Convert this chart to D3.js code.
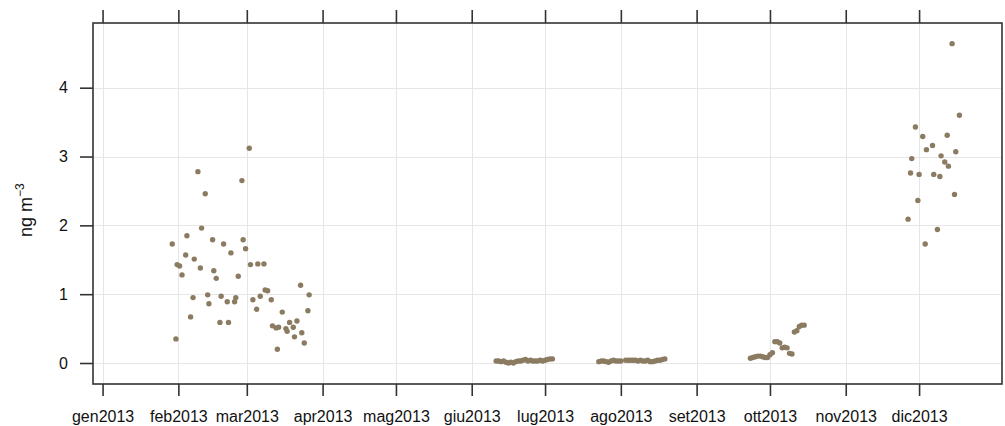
<!DOCTYPE html>
<html>
<head>
<meta charset="utf-8">
<script src="https://cdn.jsdelivr.net/npm/d3@7"></script>
<style>
  body { margin: 0; background: #fff; }
  svg { display: block; font-family: "Liberation Sans", Arial, sans-serif; }
</style>
</head>
<body>
<svg id="chart"></svg>
<script>
// month tick labels (italian)
const monthLabels = ["gen2013", "feb2013", "mar2013", "apr2013", "mag2013", "giu2013",
    "lug2013", "ago2013", "set2013", "ott2013", "nov2013", "dic2013"];
const yTicks = [0, 1, 2, 3, 4];

// winter samples
const febMarDates = ["2013-01-29 12","2013-01-31 00","2013-01-31 12","2013-02-01 12","2013-02-02 12",
    "2013-02-04 00","2013-02-04 12","2013-02-06 00","2013-02-07 00","2013-02-07 12",
    "2013-02-09 00","2013-02-10 00","2013-02-10 12","2013-02-12 00","2013-02-13 00",
    "2013-02-13 12","2013-02-15 00","2013-02-15 12","2013-02-16 12","2013-02-18 00",
    "2013-02-18 12","2013-02-19 12","2013-02-21 00","2013-02-21 12","2013-02-22 12",
    "2013-02-24 00","2013-02-24 12","2013-02-25 12","2013-02-27 00","2013-02-27 12",
    "2013-02-28 12","2013-03-02 00","2013-03-02 12","2013-03-03 12","2013-03-05 00",
    "2013-03-05 12","2013-03-06 12","2013-03-08 00","2013-03-08 12","2013-03-09 12",
    "2013-03-11 00","2013-03-11 12","2013-03-13 00","2013-03-13 12","2013-03-14 00",
    "2013-03-15 12","2013-03-17 00","2013-03-17 12","2013-03-18 12","2013-03-20 00",
    "2013-03-20 12","2013-03-21 12","2013-03-23 00","2013-03-23 12","2013-03-24 12",
    "2013-03-26 00","2013-03-26 12"];
const febMarValues = [1.73,0.35,1.43,1.41,1.28, 1.57,1.85,0.67,0.95,1.51,
    2.78,1.38,1.96,2.46,0.99, 0.86,1.79,1.34,1.23,0.59,
    0.97,1.73,0.89,0.59,1.60, 0.89,0.95,1.26,2.65,1.79,
    1.66,3.12,1.43,0.92,0.78, 1.44,0.97,1.44,1.06,1.05,
    0.92,0.54,0.51,0.20,0.52, 0.74,0.50,0.46,0.59,0.52,
    0.38,0.61,1.13,0.44,0.29, 0.76,0.99];

// summer samples
const junJulDates = ["2013-06-11","2013-06-12","2013-06-13","2013-06-14","2013-06-15","2013-06-16",
    "2013-06-17","2013-06-18","2013-06-19","2013-06-20","2013-06-21","2013-06-22",
    "2013-06-23","2013-06-24","2013-06-25","2013-06-26","2013-06-27","2013-06-28",
    "2013-06-29","2013-06-30","2013-07-01","2013-07-02","2013-07-03","2013-07-04"];
const junJulValues = [0.03,0.03,0.02,0.03,0.01,0.00, 0.01,0.00,0.02,0.03,0.03,0.04,
    0.05,0.03,0.04,0.03,0.03,0.03, 0.04,0.03,0.04,0.05,0.06,0.06];

const julAugDates = ["2013-07-23","2013-07-24","2013-07-25","2013-07-26","2013-07-27","2013-07-28",
    "2013-07-29","2013-07-30","2013-07-31","2013-08-01","2013-08-03","2013-08-04",
    "2013-08-05","2013-08-06","2013-08-07","2013-08-08","2013-08-09","2013-08-10",
    "2013-08-11","2013-08-12","2013-08-13","2013-08-14","2013-08-15","2013-08-16",
    "2013-08-17","2013-08-18","2013-08-19"];
const julAugValues = [0.02,0.03,0.03,0.02,0.01,0.03, 0.04,0.03,0.03,0.03,0.04,0.04,
    0.04,0.04,0.04,0.03,0.04,0.03, 0.03,0.04,0.02,0.02,0.03,0.04, 0.04,0.05,0.06];

// autumn samples
const octDates = ["2013-09-23","2013-09-24","2013-09-25","2013-09-26","2013-09-27","2013-09-28",
    "2013-09-29","2013-09-30","2013-10-01","2013-10-02","2013-10-03","2013-10-04",
    "2013-10-05","2013-10-06","2013-10-07","2013-10-08","2013-10-09","2013-10-10",
    "2013-10-11","2013-10-12","2013-10-13","2013-10-14","2013-10-15"];
const octValues = [0.07,0.08,0.09,0.10,0.10,0.09, 0.08,0.08,0.12,0.15,0.31,0.31,
    0.29,0.22,0.23,0.22,0.14,0.13, 0.45,0.47,0.53,0.55,0.55];

// december samples
const decDates = ["2013-12-14 12","2013-12-17 12","2013-11-29 12","2013-12-02 12","2013-12-12 12",
    "2013-12-06 12","2013-12-04 00","2013-12-16 00","2013-11-28 00","2013-12-10 00",
    "2013-12-11 12","2013-12-13 00","2013-11-27 12","2013-12-01 00","2013-12-07 00",
    "2013-12-09 12","2013-11-30 12","2013-12-15 12","2013-11-26 12","2013-12-08 12",
    "2013-12-03 12"];
const decValues = [4.64,3.60,3.43,3.29,3.31, 3.16,3.10,3.07,2.97,3.01,
    2.92,2.86,2.76,2.74,2.74, 2.71,2.36,2.45,2.09,1.94, 1.73];

const parseH = d3.timeParse("%Y-%m-%d %H"),
    parseD = d3.timeParse("%Y-%m-%d");
const parse = function(s) { return parseH(s) || parseD(s); };

const points = [];
[[febMarDates, febMarValues], [junJulDates, junJulValues], [julAugDates, julAugValues],
 [octDates, octValues], [decDates, decValues]].forEach(function(pair) {
    pair[0].forEach(function(s, i) {
        points.push({date: parse(s), value: pair[1][i]});
    });
});

const width = 1005, height = 426;
const plotLeft = 93, plotRight = 1002, plotTop = 23, plotBottom = 384;

const svg = d3.select("#chart")
    .attr("width", width)
    .attr("height", height);

const x = d3.scaleTime()
    .domain([new Date(2012, 11, 28, 2), new Date(2014, 0, 3, 22)])
    .range([plotLeft, plotRight]);
const y = d3.scaleLinear()
    .domain([-0.305, 4.94])
    .range([plotBottom, plotTop]);

const monthTicks = d3.timeMonth.range(new Date(2013, 0, 1), new Date(2014, 0, 1));

// grid
const grid = svg.append("g")
    .attr("stroke", "#e6e6e6")
    .attr("stroke-width", 1);
grid.selectAll("line.v")
    .data(monthTicks)
    .enter().append("line")
    .attr("class", "v")
    .attr("x1", function(d) { return Math.round(x(d)) + 0.5; })
    .attr("x2", function(d) { return Math.round(x(d)) + 0.5; })
    .attr("y1", plotTop)
    .attr("y2", plotBottom);
grid.selectAll("line.h")
    .data(yTicks)
    .enter().append("line")
    .attr("class", "h")
    .attr("x1", plotLeft)
    .attr("x2", plotRight)
    .attr("y1", function(d) { return Math.round(y(d)) + 0.5; })
    .attr("y2", function(d) { return Math.round(y(d)) + 0.5; });

// points
svg.append("g")
    .selectAll("circle")
    .data(points)
    .enter().append("circle")
    .attr("cx", function(d) { return x(d.date); })
    .attr("cy", function(d) { return y(d.value); })
    .attr("r", 2.7)
    .attr("fill", "#8a7b61");

// axes
const fmt = function(d) { return monthLabels[d.getMonth()]; };
const xBottom = svg.append("g")
    .attr("transform", "translate(0," + plotBottom + ")")
    .call(d3.axisBottom(x).tickValues(monthTicks).tickFormat(fmt).tickSize(12).tickPadding(15));
const xTop = svg.append("g")
    .attr("transform", "translate(0," + plotTop + ")")
    .call(d3.axisTop(x).tickValues(monthTicks).tickFormat("").tickSize(13));
const yLeft = svg.append("g")
    .attr("transform", "translate(" + plotLeft + ",0)")
    .call(d3.axisLeft(y).tickValues(yTicks).tickFormat(d3.format("d")).tickSize(13).tickPadding(12));

[xBottom, xTop, yLeft].forEach(function(g) {
    g.select(".domain").remove();
    g.selectAll(".tick line").attr("stroke", "#333").attr("stroke-width", 1.6);
    g.selectAll("text")
        .attr("fill", "#111")
        .attr("font-size", 16)
        .attr("font-family", "\"Liberation Sans\", Arial, sans-serif");
});

// frame
svg.append("rect")
    .attr("x", plotLeft)
    .attr("y", plotTop)
    .attr("width", plotRight - plotLeft)
    .attr("height", plotBottom - plotTop)
    .attr("fill", "none")
    .attr("stroke", "#333")
    .attr("stroke-width", 1.6);

// y label
const ylab = svg.append("text")
    .attr("transform", "translate(32,237) rotate(-90)")
    .attr("text-anchor", "start")
    .attr("font-size", 18)
    .attr("fill", "#111");
ylab.append("tspan").text("ng m");
ylab.append("tspan")
    .attr("dy", -8)
    .attr("font-size", 12)
    .text("\u22123");
</script>
</body>
</html>
